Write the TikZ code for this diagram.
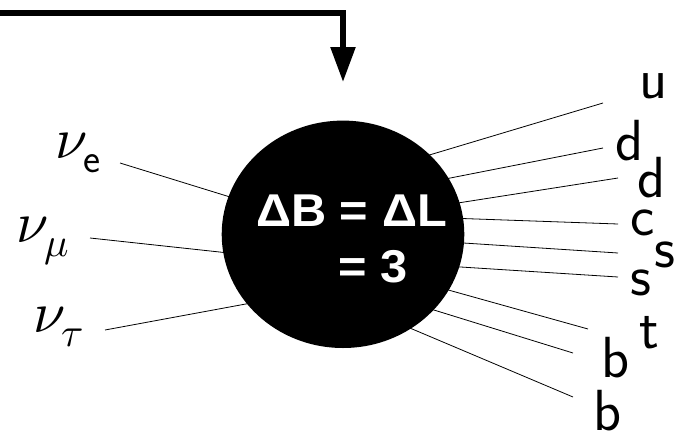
\documentclass[tikz,border=0pt]{standalone}
\usepackage{fontspec}
\usepackage{unicode-math}
\setmathfont{Latin Modern Math}
\newfontfamily\blobfont{Liberation Sans}
\usetikzlibrary{shapes.geometric,arrows.meta,backgrounds}
\tikzset{
  leg/.style={draw=black, line width=0.8pt},
  quark/.style={inner sep=0pt, anchor=base west, font=\fontsize{58}{60}\sffamily},
  nulab/.style={inner sep=0pt, anchor=base west, font=\fontsize{58}{60}\selectfont},
  blobtext/.style={inner sep=0pt, anchor=base west, text=white, font=\fontsize{46}{48}\blobfont\bfseries},
  blob/.style={ellipse, fill=black, draw=none, minimum width=242.6pt, minimum height=227.4pt, inner sep=0pt},
  feed/.style={line width=5.5pt, line join=miter, -{Triangle[length=35pt,width=24pt]}}
}
\begin{document}
\begin{tikzpicture}[x=1pt,y=-1pt]
\useasboundingbox (0,0) rectangle (682,431);
% central blob
\node[blob] (core) at (343,234.3) {};
\node[blobtext, xscale=1.06] (eq1) at (256,226) {ΔB = ΔL};
\node[blobtext, xscale=1.06] (eq2) at (338,282) {= 3};
% incoming arrow
\coordinate (feedstart) at (0,13);
\coordinate (feedtip) at (343,82);
\draw[feed] (feedstart) -| (feedtip);
% neutrino labels
\node[nulab] (ne) at (55,158) {$\nu_{\mathsf{e}}$};
\node[nulab] (nm) at (16,242) {$\nu_{\mu}$};
\node[nulab] (nt) at (33,332) {$\nu_{\tau}$};
% quark labels
\node[quark] (qu) at (639,98) {u};
\node[quark] (qd1) at (615,160) {d};
\node[quark] (qd2) at (637,197) {d};
\node[quark] (qc) at (630,235) {c};
\node[quark] (qs1) at (654,267) {s};
\node[quark] (qs2) at (630,295) {s};
\node[quark] (qt) at (639,348) {t};
\node[quark] (qb1) at (601,377) {b};
\node[quark] (qb2) at (593,430) {b};
% leg end points
\coordinate (ne-o) at (120,163); \coordinate (ne-i) at (243,201);
\coordinate (nm-o) at (90,238);  \coordinate (nm-i) at (238,254);
\coordinate (nt-o) at (105,330); \coordinate (nt-i) at (262,301);
\coordinate (u-o) at (603,103);  \coordinate (u-i) at (416,159);
\coordinate (d1-o) at (603,148); \coordinate (d1-i) at (435,181);
\coordinate (d2-o) at (618,178); \coordinate (d2-i) at (445,205);
\coordinate (c-o) at (618,224);  \coordinate (c-i) at (448,218);
\coordinate (s1-o) at (618,253); \coordinate (s1-i) at (448,242);
\coordinate (s2-o) at (618,277); \coordinate (s2-i) at (445,266);
\coordinate (t-o) at (588,329);  \coordinate (t-i) at (434,286);
\coordinate (b1-o) at (573,353); \coordinate (b1-i) at (421,306);
\coordinate (b2-o) at (573,397); \coordinate (b2-i) at (398,323);
\begin{scope}[on background layer]
\foreach \l in {ne,nm,nt,u,d1,d2,c,s1,s2,t,b1,b2}
  \draw[leg] (\l-o) -- (\l-i);
\end{scope}
\end{tikzpicture}
\end{document}
